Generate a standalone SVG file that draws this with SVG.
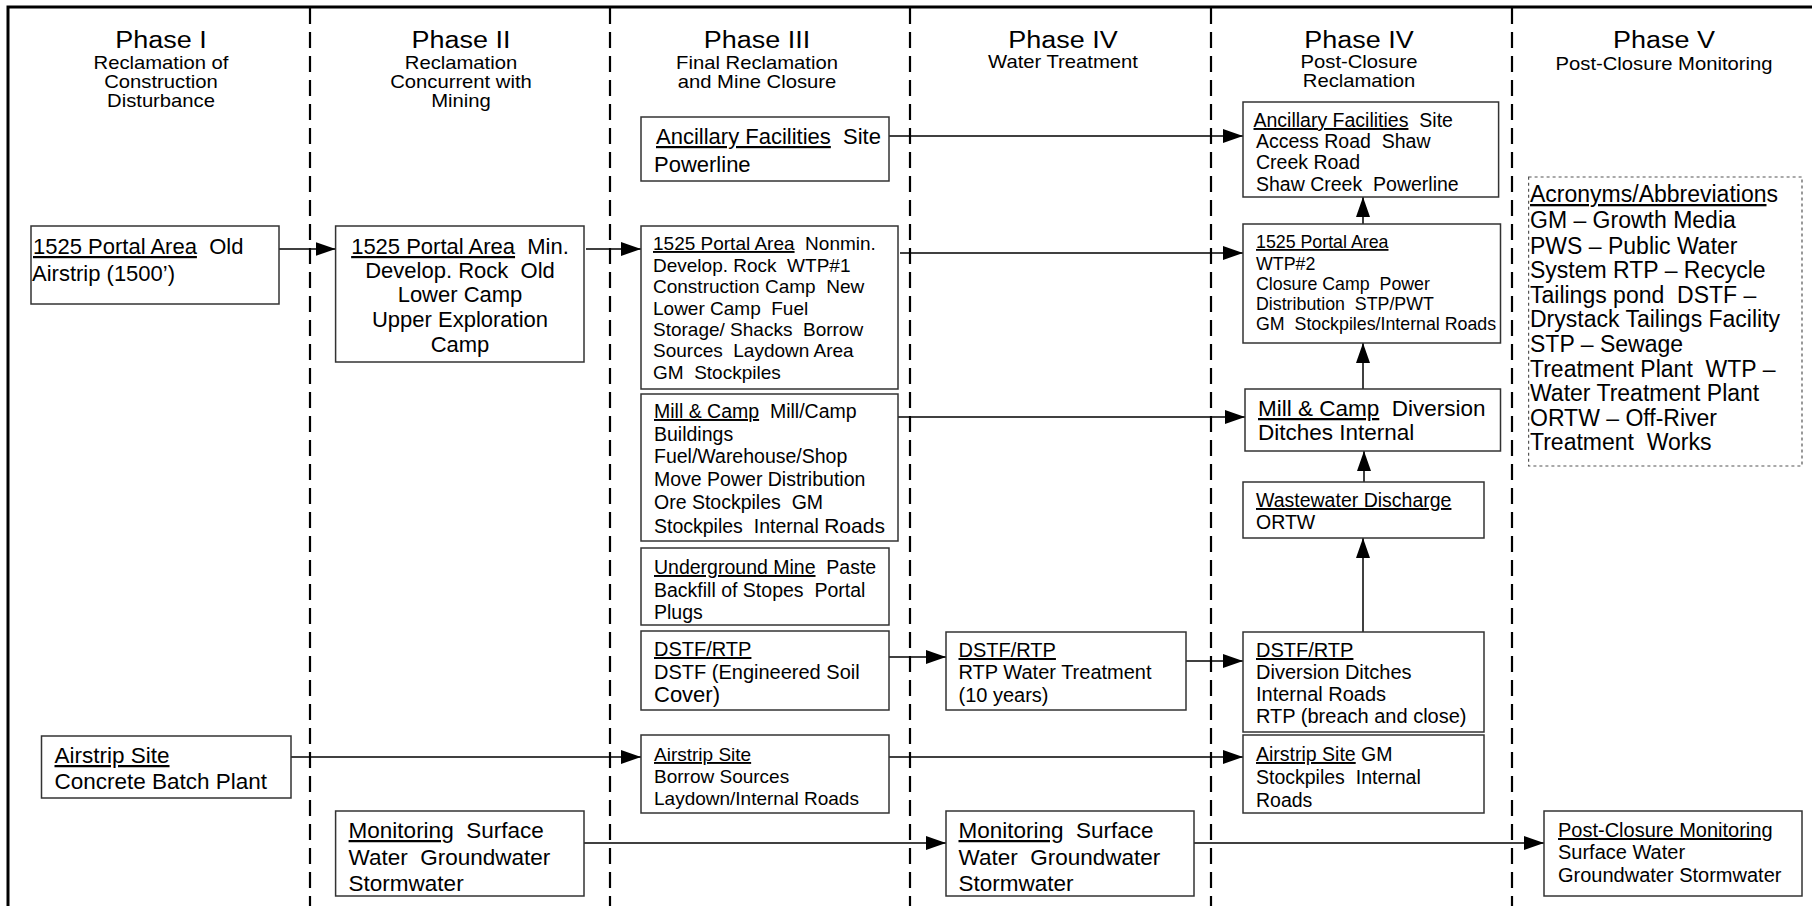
<svg xmlns="http://www.w3.org/2000/svg" width="1812" height="906" viewBox="0 0 1812 906">
<defs>
<style>
text{font-family:"Liberation Sans",Arial,sans-serif;fill:#000;}
.t{font-size:24.5px;text-anchor:middle;}
.s{font-size:18.4px;text-anchor:middle;}
.box{fill:#fff;stroke:#333;stroke-width:1.5;}
.div{stroke:#000;stroke-width:2.2;stroke-dasharray:16 8;fill:none;}
.con{stroke:#000;stroke-width:1.5;fill:none;marker-end:url(#ah);}
.u{text-decoration:underline;}
</style>
<marker id="ah" markerUnits="userSpaceOnUse" markerWidth="20" markerHeight="14" refX="20" refY="7" orient="auto">
<path d="M0,0 L20,7 L0,14 z" fill="#000"/>
</marker>
</defs>
<rect width="1812" height="906" fill="#fff"/>
<g id="frame">
<path d="M8,906 V7 H1812" fill="none" stroke="#000" stroke-width="3"/>
<line class="div" x1="310" y1="8" x2="310" y2="906"/>
<line class="div" x1="610" y1="8" x2="610" y2="906"/>
<line class="div" x1="910" y1="8" x2="910" y2="906"/>
<line class="div" x1="1211" y1="8" x2="1211" y2="906"/>
<line class="div" x1="1512" y1="8" x2="1512" y2="906"/>
</g>
<g id="headers">
<g transform="translate(161,0) scale(1.1,1)">
<text class="t" x="0" y="48">Phase I</text>
<text class="s" x="0" y="69">Reclamation of</text>
<text class="s" x="0" y="88">Construction</text>
<text class="s" x="0" y="107">Disturbance</text>
</g>
<g transform="translate(461,0) scale(1.1,1)">
<text class="t" x="0" y="48">Phase II</text>
<text class="s" x="0" y="69">Reclamation</text>
<text class="s" x="0" y="88">Concurrent with</text>
<text class="s" x="0" y="107">Mining</text>
</g>
<g transform="translate(757,0) scale(1.1,1)">
<text class="t" x="0" y="48">Phase III</text>
<text class="s" x="0" y="69">Final Reclamation</text>
<text class="s" x="0" y="88">and Mine Closure</text>
</g>
<g transform="translate(1063,0) scale(1.1,1)">
<text class="t" x="0" y="48">Phase IV</text>
<text class="s" x="0" y="68">Water Treatment</text>
</g>
<g transform="translate(1359,0) scale(1.1,1)">
<text class="t" x="0" y="48">Phase IV</text>
<text class="s" x="0" y="68">Post-Closure</text>
<text class="s" x="0" y="87">Reclamation</text>
</g>
<g transform="translate(1664,0) scale(1.1,1)">
<text class="t" x="0" y="48">Phase V</text>
<text class="s" x="0" y="70">Post-Closure Monitoring</text>
</g>
</g>
<g id="connectors">
<path class="con" d="M279,249 H335.6"/>
<path class="con" d="M586,249 H641"/>
<path class="con" d="M889,136 H1243"/>
<path class="con" d="M900,253 H1243" stroke="#555"/>
<path class="con" d="M898,417 H1245"/>
<path class="con" d="M889,657 H946"/>
<path class="con" d="M1186,661 H1243"/>
<path class="con" d="M291,757 H641"/>
<path class="con" d="M889,757 H1243"/>
<path class="con" d="M584,843 H946"/>
<path class="con" d="M1194,843 H1544"/>
<path class="con" d="M1363,224 V197"/>
<path class="con" d="M1363,389 V343"/>
<path class="con" d="M1364,482 V451"/>
<path class="con" d="M1363,632 V538"/>
</g>
<g id="p1-portal">
<rect class="box" x="31" y="226" width="248" height="78"/>
<text xml:space="preserve" x="33" y="254" font-size="22"><tspan class="u">1525 Portal Area</tspan>  Old</text>
<text x="32" y="281" font-size="22">Airstrip (1500’)</text>
</g>
<g id="p1-airstrip">
<rect class="box" x="41.5" y="736" width="249.5" height="62"/>
<text x="54.5" y="763" font-size="22.5" class="u">Airstrip Site</text>
<text x="54.5" y="789" font-size="22.5">Concrete Batch Plant</text>
</g>
<g id="p2-portal">
<rect class="box" x="335.6" y="226" width="248.4" height="136"/>
<g font-size="22" text-anchor="middle">
<text xml:space="preserve" x="460" y="254"><tspan class="u">1525 Portal Area</tspan>  Min.</text>
<text xml:space="preserve" x="460" y="278">Develop. Rock  Old</text>
<text x="460" y="302">Lower Camp</text>
<text x="460" y="327">Upper Exploration</text>
<text x="460" y="352">Camp</text>
</g>
</g>
<g id="p2-monitoring">
<rect class="box" x="335.6" y="811" width="248.4" height="85"/>
<g font-size="22.5">
<text xml:space="preserve" x="348.6" y="838"><tspan class="u">Monitoring</tspan>  Surface</text>
<text xml:space="preserve" x="348.6" y="865">Water  Groundwater</text>
<text x="348.6" y="891">Stormwater</text>
</g>
</g>
<g id="p3-ancillary">
<rect class="box" x="641" y="117" width="248" height="64"/>
<text xml:space="preserve" x="656" y="144" font-size="22"><tspan class="u">Ancillary Facilities</tspan>  Site</text>
<text x="654" y="172" font-size="22">Powerline</text>
</g>
<g id="p3-portal">
<rect class="box" x="641" y="226" width="257" height="163"/>
<g font-size="19">
<text xml:space="preserve" x="653" y="250"><tspan class="u">1525 Portal Area</tspan>  Nonmin.</text>
<text xml:space="preserve" x="653" y="272">Develop. Rock  WTP#1</text>
<text xml:space="preserve" x="653" y="293">Construction Camp  New</text>
<text xml:space="preserve" x="653" y="315">Lower Camp  Fuel</text>
<text xml:space="preserve" x="653" y="336">Storage/ Shacks  Borrow</text>
<text xml:space="preserve" x="653" y="357">Sources  Laydown Area</text>
<text xml:space="preserve" x="653" y="379">GM  Stockpiles</text>
</g>
</g>
<g id="p3-mill">
<rect class="box" x="641" y="394" width="257" height="147"/>
<g font-size="19.5">
<text xml:space="preserve" x="654" y="418"><tspan class="u">Mill &amp; Camp</tspan>  Mill/Camp</text>
<text x="654" y="441">Buildings</text>
<text x="654" y="463">Fuel/Warehouse/Shop</text>
<text x="654" y="486">Move Power Distribution</text>
<text xml:space="preserve" x="654" y="509">Ore Stockpiles  GM</text>
<text xml:space="preserve" x="654" y="533">Stockpiles  Internal <tspan font-size="21">Roads</tspan></text>
</g>
</g>
<g id="p3-underground">
<rect class="box" x="641" y="548" width="248" height="77"/>
<g font-size="19.5">
<text xml:space="preserve" x="654" y="574"><tspan class="u">Underground Mine</tspan>  Paste</text>
<text xml:space="preserve" x="654" y="597">Backfill of Stopes  Portal</text>
<text x="654" y="619">Plugs</text>
</g>
</g>
<g id="p3-dstf">
<rect class="box" x="641" y="631" width="248" height="79"/>
<g font-size="20">
<text x="654" y="656" class="u">DSTF/RTP</text>
<text x="654" y="679">DSTF (Engineered Soil</text>
<text x="654" y="702" font-size="22">Cover)</text>
</g>
</g>
<g id="p3-airstrip">
<rect class="box" x="641" y="735" width="248" height="78"/>
<g font-size="19">
<text x="654" y="761" class="u">Airstrip Site</text>
<text x="654" y="783">Borrow Sources</text>
<text x="654" y="805">Laydown/Internal Roads</text>
</g>
</g>
<g id="p4-dstf">
<rect class="box" x="946" y="632" width="240" height="78"/>
<g font-size="20">
<text x="958.5" y="657" class="u">DSTF/RTP</text>
<text x="958.5" y="679">RTP Water Treatment</text>
<text x="958.5" y="702">(10 years)</text>
</g>
</g>
<g id="p4-monitoring">
<rect class="box" x="946" y="811" width="248" height="85"/>
<g font-size="22.5">
<text xml:space="preserve" x="958.5" y="838"><tspan class="u">Monitoring</tspan>  Surface</text>
<text xml:space="preserve" x="958.5" y="865">Water  Groundwater</text>
<text x="958.5" y="891">Stormwater</text>
</g>
</g>
<g id="p4b-ancillary">
<rect class="box" x="1243" y="102" width="255.6" height="95"/>
<g font-size="19.5">
<text xml:space="preserve" x="1253.5" y="127"><tspan class="u">Ancillary Facilities</tspan>  Site</text>
<text xml:space="preserve" x="1256" y="148">Access Road  Shaw</text>
<text x="1256" y="169">Creek Road</text>
<text xml:space="preserve" x="1256" y="191">Shaw Creek  Powerline</text>
</g>
</g>
<g id="p4b-portal">
<rect class="box" x="1243" y="224" width="257.5" height="119"/>
<g font-size="17.8">
<text x="1256" y="248" class="u">1525 Portal Area</text>
<text x="1256" y="270">WTP#2</text>
<text xml:space="preserve" x="1256" y="290">Closure Camp  Power</text>
<text xml:space="preserve" x="1256" y="310">Distribution  STP/PWT</text>
<text xml:space="preserve" x="1256" y="330">GM  Stockpiles/Internal Roads</text>
</g>
</g>
<g id="p4b-mill">
<rect class="box" x="1245" y="389" width="255.5" height="62"/>
<g font-size="22.5">
<text xml:space="preserve" x="1258" y="416"><tspan class="u">Mill &amp; Camp</tspan>  Diversion</text>
<text x="1258" y="440">Ditches Internal</text>
</g>
</g>
<g id="p4b-wastewater">
<rect class="box" x="1243" y="482" width="241" height="56"/>
<g font-size="19.5">
<text x="1256" y="507" class="u">Wastewater Discharge</text>
<text x="1256" y="529">ORTW</text>
</g>
</g>
<g id="p4b-dstf">
<rect class="box" x="1243" y="632" width="241" height="100"/>
<g font-size="20">
<text x="1256" y="657" class="u">DSTF/RTP</text>
<text x="1256" y="679">Diversion Ditches</text>
<text x="1256" y="701">Internal Roads</text>
<text x="1256" y="723">RTP (breach and close)</text>
</g>
</g>
<g id="p4b-airstrip">
<rect class="box" x="1243" y="735" width="241" height="78"/>
<g font-size="19.5">
<text x="1256" y="761"><tspan class="u">Airstrip Site</tspan> GM</text>
<text xml:space="preserve" x="1256" y="784">Stockpiles  Internal</text>
<text x="1256" y="807">Roads</text>
</g>
</g>
<g id="p5-monitoring">
<rect class="box" x="1544" y="811" width="258" height="85"/>
<g font-size="20">
<text x="1558" y="837" class="u">Post-Closure Monitoring</text>
<text x="1558" y="859">Surface Water</text>
<text x="1558" y="882">Groundwater Stormwater</text>
</g>
</g>
<g id="acronyms">
<rect x="1528.6" y="177" width="273.4" height="289" fill="#fff" stroke="#555" stroke-width="1.2" stroke-dasharray="3 3"/>
<g font-size="23">
<text x="1530" y="202"><tspan class="u">Acronyms/Abbreviation</tspan>s</text>
<text x="1530" y="228">GM – Growth Media</text>
<text x="1530" y="254">PWS – Public Water</text>
<text x="1530" y="278">System RTP – Recycle</text>
<text xml:space="preserve" x="1530" y="303">Tailings pond  DSTF –</text>
<text x="1530" y="327">Drystack Tailings Facility</text>
<text x="1530" y="352">STP – Sewage</text>
<text xml:space="preserve" x="1530" y="377">Treatment Plant  WTP –</text>
<text x="1530" y="401">Water Treatment Plant</text>
<text x="1530" y="426">ORTW – Off-River</text>
<text xml:space="preserve" x="1530" y="450">Treatment  Works</text>
</g>
</g>
</svg>
